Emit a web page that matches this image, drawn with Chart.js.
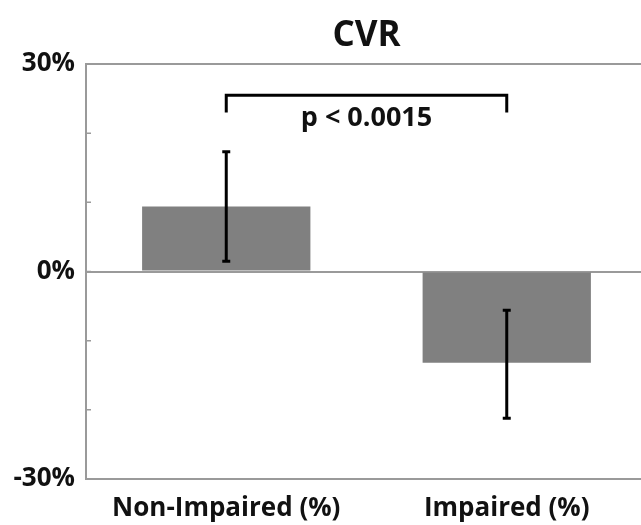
<!DOCTYPE html>
<html>
<head>
<meta charset="utf-8">
<script src="https://cdn.jsdelivr.net/npm/chart.js@4/dist/chart.umd.min.js"></script>
<style>
  html, body { margin: 0; padding: 0; background: #fff; overflow: hidden; }
  #wrap { width: 648px; height: 525px; }
</style>
</head>
<body>
<div id="wrap"><canvas id="myChart"></canvas></div>
<script>
// chart values
const categories = ['Non-Impaired (%)', 'Impaired (%)'];
const means = [9.4, -13.2];
const errLow = [1.5, -21.2];
const errHigh = [17.3, -5.6];
const yTicks = [-30, -20, -10, 0, 10, 20, 30];
const yLabels = ['-30%', '', '', '0%', '', '', '30%'];
const titleText = 'CVR';
const pText = 'p < 0.0015';
const bracketTop = 25.5;
const bracketFoot = 23;

const frameColor = '#9a9a9a';
const fontFamily = "'Open Sans', 'DejaVu Sans', sans-serif";

// draws the frame, inner ticks, error bars, the p-value bracket and the title
const extras = {
    id: 'extras',
    afterDatasetsDraw(chart) {
        const ctx = chart.ctx;
        const area = chart.chartArea;
        const x = chart.scales.x;
        const y = chart.scales.y;
        ctx.save();

        // frame round the plot
        ctx.strokeStyle = frameColor;
        ctx.lineWidth = 2;
        ctx.strokeRect(area.left, area.top, area.right - area.left, area.bottom - area.top);

        // inner tick marks on left and right
        ctx.lineWidth = 1.5;
        yTicks.forEach(v => {
            const py = y.getPixelForValue(v);
            ctx.beginPath();
            ctx.moveTo(area.left, py);
            ctx.lineTo(area.left + 5, py);
            ctx.moveTo(area.right, py);
            ctx.lineTo(area.right - 5, py);
            ctx.stroke();
        });

        // error bars
        ctx.strokeStyle = '#000';
        ctx.lineWidth = 3;
        means.forEach((m, i) => {
            const px = x.getPixelForValue(i);
            const lo = y.getPixelForValue(errLow[i]);
            const hi = y.getPixelForValue(errHigh[i]);
            ctx.beginPath();
            ctx.moveTo(px, lo);
            ctx.lineTo(px, hi);
            ctx.moveTo(px - 4, lo);
            ctx.lineTo(px + 4, lo);
            ctx.moveTo(px - 4, hi);
            ctx.lineTo(px + 4, hi);
            ctx.stroke();
        });

        // significance bracket
        const x0 = x.getPixelForValue(0);
        const x1 = x.getPixelForValue(1);
        const yt = y.getPixelForValue(bracketTop);
        const yf = y.getPixelForValue(bracketFoot);
        ctx.lineWidth = 3;
        ctx.beginPath();
        ctx.moveTo(x0, yf);
        ctx.lineTo(x0, yt);
        ctx.lineTo(x1, yt);
        ctx.lineTo(x1, yf);
        ctx.stroke();

        ctx.fillStyle = '#111';
        ctx.textAlign = 'center';
        ctx.textBaseline = 'middle';
        ctx.font = 'bold 27px ' + fontFamily;
        ctx.fillText(pText, (x0 + x1) / 2, yt + 23);

        // title centred over the plot area
        ctx.font = 'bold 35px ' + fontFamily;
        ctx.fillText(titleText, (area.left + area.right) / 2, 36);
        ctx.restore();
    }
};

new Chart(document.getElementById('myChart'), {
    type: 'bar',
    data: {
        labels: categories,
        datasets: [{
            label: 'CVR',
            data: means,
            backgroundColor: '#808080',
            borderWidth: 0,
            barPercentage: 0.6,
            categoryPercentage: 1
        }]
    },
    options: {
        responsive: true,
        maintainAspectRatio: false,
        animation: false,
        layout: { padding: { left: 0, right: 1, top: 64, bottom: 0 } },
        plugins: {
            legend: { display: false },
            tooltip: { enabled: false },
            title: { display: false }
        },
        scales: {
            x: {
                afterFit(scale) { scale.height = 46; },
                grid: { display: false },
                border: { display: false },
                ticks: {
                    color: '#111',
                    padding: 6,
                    font: { family: fontFamily, size: 26, weight: 'bold' }
                }
            },
            y: {
                min: -30,
                max: 30,
                afterFit(scale) { scale.width = 86; },
                afterBuildTicks(scale) { scale.ticks = yTicks.map(v => ({ value: v })); },
                grid: {
                    drawTicks: false,
                    color: ctx => ctx.tick && ctx.tick.value === 0 ? frameColor : 'rgba(0,0,0,0)',
                    lineWidth: 2
                },
                border: { display: false },
                ticks: {
                    color: '#111',
                    padding: 11,
                    font: { family: fontFamily, size: 26, weight: 'bold' },
                    callback: (v) => yLabels[yTicks.indexOf(v)]
                }
            }
        }
    },
    plugins: [extras]
});
</script>
</body>
</html>
